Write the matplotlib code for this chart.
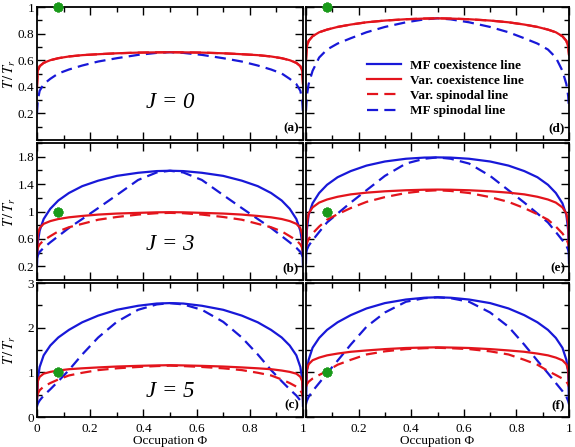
import matplotlib
matplotlib.use("Agg")
import matplotlib.pyplot as plt
from matplotlib.lines import Line2D
from matplotlib.ticker import MultipleLocator, FixedLocator

plt.rcParams["font.family"] = ["Liberation Serif", "DejaVu Serif"]
plt.rcParams["mathtext.fontset"] = "stix"

phi = [0, 0.003, 0.01, 0.025, 0.05, 0.08, 0.12, 0.17, 0.23, 0.30, 0.38, 0.45, 0.5,
       0.55, 0.62, 0.70, 0.77, 0.83, 0.88, 0.92, 0.95, 0.975, 0.99, 0.997, 1]

# J = 0, left (a)
a_var = [0.40, 0.52, 0.555, 0.58, 0.60, 0.615, 0.628, 0.638, 0.645, 0.652, 0.657, 0.659, 0.66,
         0.659, 0.657, 0.652, 0.645, 0.638, 0.628, 0.615, 0.60, 0.58, 0.555, 0.52, 0.42]
a_mfsp = [0.20, 0.30, 0.37, 0.42, 0.46, 0.50, 0.53, 0.56, 0.59, 0.615, 0.64, 0.655, 0.66,
          0.655, 0.64, 0.615, 0.59, 0.56, 0.53, 0.50, 0.46, 0.42, 0.37, 0.30, 0.20]

# J = 0, right (d)
d_var = [0.60, 0.70, 0.745, 0.78, 0.81, 0.83, 0.85, 0.868, 0.885, 0.898, 0.908, 0.913, 0.915,
         0.913, 0.908, 0.898, 0.885, 0.868, 0.85, 0.83, 0.81, 0.78, 0.745, 0.70, 0.64]
d_mfsp = [0.22, 0.33, 0.42, 0.52, 0.62, 0.68, 0.725, 0.765, 0.81, 0.85, 0.885, 0.907, 0.915,
          0.907, 0.885, 0.85, 0.81, 0.765, 0.725, 0.68, 0.62, 0.52, 0.42, 0.33, 0.24]

# J = 3, left (b)
b_mfco = [0.20, 0.55, 0.72, 0.89, 1.04, 1.16, 1.27, 1.37, 1.45, 1.52, 1.565, 1.59, 1.595,
          1.59, 1.565, 1.52, 1.45, 1.37, 1.27, 1.16, 1.04, 0.89, 0.72, 0.55, 0.20]
b_mfsp = [0.32, 0.36, 0.41, 0.47, 0.55, 0.64, 0.76, 0.89, 1.05, 1.24, 1.46, 1.57, 1.595,
          1.57, 1.46, 1.24, 1.05, 0.89, 0.76, 0.64, 0.55, 0.47, 0.41, 0.36, 0.32]
b_vco = [0.38, 0.66, 0.76, 0.82, 0.86, 0.89, 0.915, 0.935, 0.955, 0.97, 0.98, 0.988, 0.99,
         0.988, 0.98, 0.97, 0.955, 0.935, 0.915, 0.89, 0.86, 0.82, 0.76, 0.66, 0.38]
b_vsp = [0.42, 0.47, 0.52, 0.58, 0.64, 0.71, 0.77, 0.82, 0.88, 0.92, 0.955, 0.975, 0.98,
         0.975, 0.955, 0.92, 0.88, 0.82, 0.77, 0.71, 0.64, 0.58, 0.52, 0.47, 0.42]

# J = 3, right (e)
e_mfco = [0.25, 0.72, 0.95, 1.12, 1.27, 1.39, 1.50, 1.59, 1.67, 1.73, 1.77, 1.787, 1.79,
          1.787, 1.77, 1.73, 1.67, 1.59, 1.50, 1.39, 1.27, 1.12, 0.95, 0.72, 0.25]
e_mfsp = [0.40, 0.44, 0.50, 0.58, 0.70, 0.84, 0.97, 1.13, 1.31, 1.52, 1.70, 1.77, 1.79,
          1.77, 1.70, 1.52, 1.31, 1.13, 0.97, 0.84, 0.70, 0.58, 0.50, 0.44, 0.40]
e_vco = [0.50, 0.82, 0.97, 1.06, 1.13, 1.175, 1.215, 1.25, 1.275, 1.295, 1.31, 1.318, 1.32,
         1.318, 1.31, 1.295, 1.275, 1.25, 1.215, 1.175, 1.13, 1.06, 0.97, 0.82, 0.50]
e_vsp = [0.48, 0.53, 0.60, 0.68, 0.78, 0.88, 0.96, 1.05, 1.14, 1.21, 1.27, 1.30, 1.31,
         1.30, 1.27, 1.21, 1.14, 1.05, 0.96, 0.88, 0.78, 0.68, 0.60, 0.53, 0.48]

# J = 5, left (c)
c_mfco = [0.25, 0.85, 1.12, 1.38, 1.60, 1.78, 1.95, 2.12, 2.27, 2.40, 2.49, 2.54, 2.55,
          2.54, 2.49, 2.40, 2.27, 2.12, 1.95, 1.78, 1.60, 1.38, 1.12, 0.85, 0.25]
c_mfsp = [0.25, 0.30, 0.37, 0.48, 0.62, 0.80, 1.05, 1.40, 1.78, 2.13, 2.40, 2.52, 2.55,
          2.52, 2.40, 2.13, 1.78, 1.40, 1.05, 0.80, 0.62, 0.48, 0.37, 0.30, 0.25]
c_vco = [0.40, 0.80, 0.90, 0.97, 1.01, 1.04, 1.07, 1.09, 1.11, 1.13, 1.145, 1.155, 1.16,
         1.155, 1.145, 1.13, 1.11, 1.09, 1.07, 1.04, 1.01, 0.97, 0.90, 0.80, 0.40]
c_vsp = [0.45, 0.52, 0.60, 0.68, 0.76, 0.84, 0.93, 0.99, 1.05, 1.09, 1.12, 1.14, 1.15,
         1.14, 1.12, 1.09, 1.05, 0.99, 0.93, 0.84, 0.76, 0.68, 0.60, 0.52, 0.45]

# J = 5, right (f)
f_mfco = [0.30, 1.00, 1.28, 1.55, 1.77, 1.95, 2.12, 2.28, 2.43, 2.55, 2.63, 2.67, 2.68,
          2.67, 2.63, 2.55, 2.43, 2.28, 2.12, 1.95, 1.77, 1.55, 1.28, 1.00, 0.30]
f_mfsp = [0.30, 0.36, 0.45, 0.58, 0.76, 0.98, 1.26, 1.62, 2.02, 2.34, 2.58, 2.66, 2.68,
          2.66, 2.58, 2.34, 2.02, 1.62, 1.26, 0.98, 0.76, 0.58, 0.45, 0.36, 0.30]
f_vco = [0.70, 1.05, 1.18, 1.27, 1.33, 1.38, 1.42, 1.46, 1.49, 1.52, 1.545, 1.555, 1.56,
         1.555, 1.545, 1.52, 1.49, 1.46, 1.42, 1.38, 1.33, 1.27, 1.18, 1.05, 0.70]
f_vsp = [0.68, 0.73, 0.79, 0.86, 0.94, 1.03, 1.17, 1.28, 1.40, 1.47, 1.52, 1.54, 1.55,
         1.54, 1.52, 1.47, 1.40, 1.28, 1.17, 1.03, 0.94, 0.86, 0.79, 0.73, 0.68]

star_phi = 0.08
star_T = 1.0

J_values = ["0", "3", "5"]
panel_tags = [["(a)", "(d)"], ["(b)", "(e)"], ["(c)", "(f)"]]

xmaj = [0, 0.2, 0.4, 0.6, 0.8, 1.0]
xmaj_lbl = [["0", "0.2", "0.4", "0.6", "0.8", "1"], ["", "0.2", "0.4", "0.6", "0.8", "1"]]
ylims = [(0, 1), (0, 2), (0, 3)]
ymaj = [[0.2, 0.4, 0.6, 0.8, 1.0], [0.2, 0.6, 1.0, 1.4, 1.8], [0, 1, 2, 3]]
ymaj_lbl = [["0.2", "0.4", "0.6", "0.8", "1"], ["0.2", "0.6", "1", "1.4", "1.8"],
            ["0", "1", "2", "3"]]
ymin = [0.1, 0.2, 0.5]

BLUE = "#1818d8"
RED = "#e3141c"
GREEN = "#1a9a1a"

fig = plt.figure(figsize=(5.75, 4.47), dpi=100)
W, H = 575, 447
col_x = [(37, 303), (306, 569)]
row_y = [(7, 140), (143, 280), (283, 417)]

axes = []
for r in range(3):
    row = []
    for c in range(2):
        x0, x1 = col_x[c]
        y0, y1 = row_y[r]
        ax = fig.add_axes([x0 / W, 1 - y1 / H, (x1 - x0) / W, (y1 - y0) / H])
        row.append(ax)
    axes.append(row)

panels = [
    [dict(vco=a_var, vsp=a_var, mfsp=a_mfsp), dict(vco=d_var, vsp=d_var, mfsp=d_mfsp)],
    [dict(mfco=b_mfco, vco=b_vco, vsp=b_vsp, mfsp=b_mfsp),
     dict(mfco=e_mfco, vco=e_vco, vsp=e_vsp, mfsp=e_mfsp)],
    [dict(mfco=c_mfco, vco=c_vco, vsp=c_vsp, mfsp=c_mfsp),
     dict(mfco=f_mfco, vco=f_vco, vsp=f_vsp, mfsp=f_mfsp)],
]

dash = (0, (5, 2.8))

for r in range(3):
    for c in range(2):
        ax = axes[r][c]
        d = panels[r][c]
        if "mfsp" in d:
            ax.plot(phi, d["mfsp"], color=BLUE, lw=1.6, ls=dash)
        if "mfco" in d:
            ax.plot(phi, d["mfco"], color=BLUE, lw=1.6)
        ax.plot(phi, d["vsp"], color=RED, lw=1.6, ls=dash)
        ax.plot(phi, d["vco"], color=RED, lw=1.6)
        ax.plot([star_phi], [star_T], marker=(8, 2, 0), ms=7, mew=2.0,
                color=GREEN, clip_on=False, zorder=5)

        ax.set_xlim(0, 1)
        ax.set_ylim(*ylims[r])
        ax.xaxis.set_major_locator(FixedLocator(xmaj))
        ax.xaxis.set_minor_locator(MultipleLocator(0.1))
        ax.yaxis.set_major_locator(FixedLocator(ymaj[r]))
        ax.yaxis.set_minor_locator(MultipleLocator(ymin[r]))
        ax.tick_params(which="both", direction="in", top=True, right=True,
                       labelsize=9.5)
        ax.tick_params(axis="y", pad=2)
        ax.tick_params(axis="x", pad=4)
        ax.tick_params(which="major", length=5.5, width=1)
        ax.tick_params(which="minor", length=3.5, width=1)
        for s in ax.spines.values():
            s.set_linewidth(1.3)

        if c == 0:
            ax.set_yticklabels(ymaj_lbl[r])
        else:
            ax.set_yticklabels([])
        if r == 2:
            ax.set_xticklabels(xmaj_lbl[c])
            ax.set_xlabel("Occupation \u03a6", fontsize=9.5, labelpad=0)
        else:
            ax.set_xticklabels([])

        ax.text(0.985, 0.04, panel_tags[r][c], transform=ax.transAxes,
                ha="right", va="bottom", fontsize=9.5, fontweight="bold")

    axes[r][0].text(0.5, [0.28, 0.26, 0.19][r], "J = " + J_values[r],
                    transform=axes[r][0].transAxes, ha="center", va="center",
                    fontsize=16.5, style="italic")
    yc = 1 - (row_y[r][0] + row_y[r][1]) / 2 / H
    fig.text(10 / W, yc, r"$T\,/\,T_r$", rotation=90, ha="center", va="center",
             fontsize=10.5)

handles = [
    Line2D([], [], color=BLUE, lw=1.6),
    Line2D([], [], color=RED, lw=1.6),
    Line2D([], [], color=RED, lw=1.6, ls=dash),
    Line2D([], [], color=BLUE, lw=1.6, ls=dash),
]
labels = ["MF coexistence line", "Var. coexistence line",
          "Var. spinodal line", "MF spinodal line"]
axes[0][1].legend(handles, labels, loc="upper left", bbox_to_anchor=(0.21, 0.645),
                  frameon=False, prop={"weight": "bold", "size": 9.5},
                  handlelength=2.6, labelspacing=0.22, handletextpad=0.7,
                  borderaxespad=0)

fig.savefig("out.png", dpi=100)
